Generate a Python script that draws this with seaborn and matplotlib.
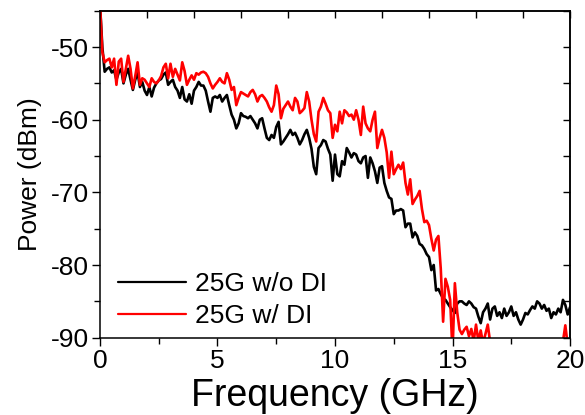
import numpy as np
import pandas as pd
import matplotlib
matplotlib.use("Agg")
import matplotlib.pyplot as plt
import seaborn as sns
from matplotlib.ticker import MultipleLocator
from matplotlib.lines import Line2D

# frequency grid of the analyzer trace (GHz)
freq = np.round(np.linspace(0, 20, 201), 1)

# 25G w/o DI (dBm), every 0.1 GHz
power_wo_di = [
    -44.0, -50.0, -53.4, -53.0, -52.8, -53.5, -53.2, -54.5, -53.5, -53.0,
    -55.0, -53.8, -53.0, -54.5, -55.9, -54.5, -53.5, -55.5, -54.8, -56.0,
    -56.6, -55.5, -56.8, -55.6, -55.0, -54.6, -54.4, -53.8, -53.5, -55.2,
    -54.8, -54.5, -55.5, -56.0, -57.0, -55.5, -57.2, -57.5, -56.5, -57.8,
    -56.0, -55.5, -54.8, -55.3, -55.3, -56.0, -57.5, -58.9, -57.0, -56.8,
    -57.0, -56.6, -57.5, -57.0, -56.6, -58.0, -59.3, -60.0, -61.2, -60.5,
    -59.1, -59.5, -59.6, -59.8, -59.5, -60.0, -60.5, -61.2, -60.0, -59.8,
    -61.2, -62.5, -62.8, -62.1, -62.5, -61.0, -60.3, -63.4, -63.0, -62.5,
    -62.0, -61.4, -62.1, -61.8, -62.5, -63.4, -62.8, -62.0, -61.4, -62.5,
    -64.0, -66.5, -67.5, -63.9, -63.5, -62.8, -63.0, -64.0, -64.8, -68.4,
    -64.8, -67.5, -67.8, -65.7, -66.2, -63.9, -64.5, -65.2, -64.6, -64.8,
    -65.7, -66.0, -65.2, -65.0, -68.0, -65.2, -66.0, -67.1, -68.7, -66.6,
    -66.4, -68.7, -69.8, -70.7, -70.9, -73.0, -72.5, -72.5, -72.3, -72.5,
    -74.8, -74.3, -74.3, -76.2, -75.5, -76.0, -77.1, -77.3, -77.8, -78.5,
    -78.9, -80.7, -80.0, -83.5, -83.3, -84.0, -84.6, -84.8, -85.3, -85.8,
    -86.2, -86.6, -85.3, -85.0, -85.0, -85.3, -85.5, -85.0, -85.3, -85.8,
    -86.0, -87.1, -88.0, -86.5, -86.0, -85.3, -87.5, -86.0, -85.7, -87.0,
    -86.5, -87.3, -86.0, -87.0, -86.5, -85.7, -87.0, -86.5, -87.5, -88.2,
    -87.5, -86.6, -86.8, -86.2, -85.7, -86.0, -85.0, -85.3, -86.0, -85.5,
    -86.3, -86.0, -87.3, -86.5, -86.8, -86.0, -86.5, -84.8, -85.5, -86.8,
    -85.8,
]

# 25G w/ DI (dBm)
power_w_di = [
    -44.0, -50.7, -52.1, -51.8, -51.6, -52.8, -51.6, -55.2, -52.0, -51.6,
    -54.8, -53.0, -51.2, -53.0, -55.7, -54.0, -52.1, -55.2, -54.3, -54.5,
    -55.0, -55.5, -54.3, -54.8, -55.0, -54.6, -54.0, -52.8, -52.3, -54.3,
    -52.3, -54.1, -53.0, -53.8, -54.6, -52.1, -53.3, -55.2, -54.5, -53.9,
    -54.5, -53.6, -53.8, -53.5, -53.4, -53.6, -54.1, -55.0, -55.7, -55.2,
    -54.8, -54.3, -54.8, -55.0, -53.6, -54.5, -55.9, -55.5, -58.0, -57.0,
    -56.2, -56.4, -56.6, -56.8, -56.2, -55.9, -56.5, -57.5, -56.8, -56.6,
    -57.0, -57.5, -58.3, -58.9, -58.0, -55.3, -56.5, -59.8, -58.5, -58.0,
    -57.5, -58.2, -58.7, -57.0, -57.5, -59.1, -58.8, -58.4, -56.2, -57.5,
    -60.0, -62.0, -63.0, -58.9, -58.2, -57.0, -57.8, -58.7, -59.1, -62.5,
    -60.7, -61.6, -58.9, -60.5, -58.7, -59.0, -59.5, -59.3, -60.0, -58.7,
    -60.0, -62.1, -58.2, -60.5, -61.2, -61.6, -60.0, -58.9, -63.9, -62.5,
    -61.4, -62.5, -64.5, -68.0, -64.4, -67.5, -66.8, -66.2, -66.8, -65.9,
    -68.7, -70.3, -68.2, -71.6, -71.0, -70.5, -69.8, -72.3, -74.1, -73.9,
    -74.5, -76.4, -78.0, -76.5, -76.0, -80.5, -87.8, -81.9, -83.0, -84.8,
    -92.0, -82.5, -86.5, -88.9, -89.5, -88.9, -88.5, -89.8, -88.8, -90.5,
    -88.2, -90.5, -89.0, -90.8, -89.5, -88.2, -90.6, -91.5, -92.0, -92.5,
    -93.0, -92.2, -92.8, -93.5, -92.4, -92.9, -93.2, -92.6, -93.4, -92.8,
    -93.0, -92.5, -93.3, -92.7, -93.1, -92.6, -93.4, -92.9, -93.0, -92.4,
    -93.2, -92.8, -93.0, -92.5, -93.1, -92.7, -92.2, -90.5, -88.3, -91.0,
    -92.0,
]

labels = ["25G w/o DI", "25G w/ DI"]
colors = ["black", "#ff0000"]

df = pd.concat([
    pd.DataFrame({"freq": freq, "power": power_wo_di, "trace": labels[0]}),
    pd.DataFrame({"freq": freq, "power": power_w_di, "trace": labels[1]}),
])

sns.set_style("ticks")
plt.rcParams["font.family"] = ["Liberation Sans", "DejaVu Sans"]
plt.rcParams["axes.unicode_minus"] = False
plt.rcParams["text.color"] = "black"
plt.rcParams["axes.labelcolor"] = "black"
plt.rcParams["xtick.color"] = "black"
plt.rcParams["ytick.color"] = "black"

fig = plt.figure(figsize=(5.85, 4.15), dpi=100)
ax = fig.add_axes([0.1709, 0.1863, 0.8035, 0.7879])

sns.lineplot(data=df, x="freq", y="power", hue="trace", hue_order=labels,
             palette=dict(zip(labels, colors)), estimator=None, sort=False,
             linewidth=1.9, ax=ax, legend=False)

ax.set_xlim(0, 20)
ax.set_ylim(-90, -45)
ax.xaxis.set_major_locator(MultipleLocator(5))
ax.xaxis.set_minor_locator(MultipleLocator(2.5))
ax.yaxis.set_minor_locator(MultipleLocator(5))
ax.set_yticks([-90, -80, -70, -60, -50])
ax.tick_params(axis="both", which="major", direction="out", length=6, width=1,
               labelsize=19, pad=2)
ax.tick_params(axis="both", which="minor", direction="out", length=4, width=1)

# mirrored inner ticks on top and right
top = ax.secondary_xaxis("top")
top.set_xticks(np.arange(0, 21, 2))
top.tick_params(direction="in", length=5, width=1, labeltop=False)
right = ax.secondary_yaxis("right")
right.set_yticks(np.arange(-90, -44, 5))
right.tick_params(direction="in", length=5, width=1, labelright=False)

for sp in list(ax.spines.values()) + [top.spines["top"], right.spines["right"]]:
    sp.set_linewidth(1.1)
    sp.set_color("black")

ax.set_xlabel("Frequency (GHz)", fontsize=27, labelpad=4)
ax.set_ylabel("Power (dBm)", fontsize=19, labelpad=6)

handles = [Line2D([], [], color=c, linewidth=1.6) for c in colors]
ax.legend(handles, labels, loc="lower left", bbox_to_anchor=(0.0, -0.027),
          frameon=False, fontsize=19, handlelength=2.55, handletextpad=0.35,
          labelspacing=0.3, borderaxespad=0.3)

fig.savefig("out.png", dpi=100)
